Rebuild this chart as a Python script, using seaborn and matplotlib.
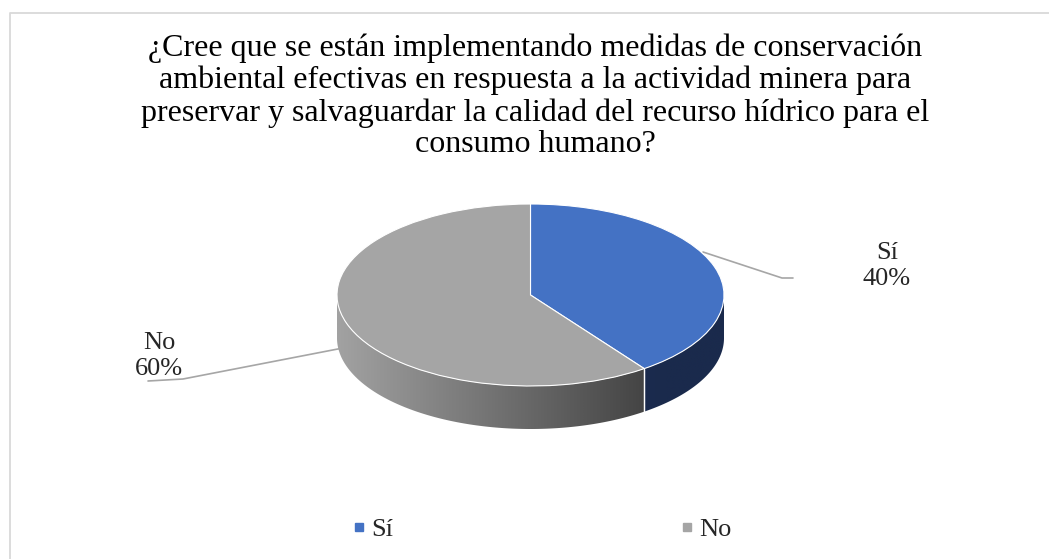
import numpy as np
import matplotlib
matplotlib.use('Agg')
import matplotlib.pyplot as plt
import seaborn as sns
from matplotlib.lines import Line2D
from matplotlib.patches import Polygon
from matplotlib.colors import to_rgb

# ---- data ----
categories = ['Sí', 'No']
values = [40, 60]
title = ('¿Cree que se están implementando medidas de conservación\n'
         'ambiental efectivas en respuesta a la actividad minera para\n'
         'preservar y salvaguardar la calidad del recurso hídrico para el\n'
         'consumo humano?')

top_colors = ['#4472C4', '#A5A5A5']
side_light = ['#24396B', '#A2A2A2']
side_dark = ['#1A2A4C', '#3E3E3E']

sns.set_theme(style='white')
plt.rcParams['font.family'] = ['Liberation Serif', 'DejaVu Serif']

W, H = 1049, 559
fig = plt.figure(figsize=(W / 100, H / 100), dpi=100)
bg = fig.add_axes([0, 0, 1, 1])
bg.set_xlim(0, W)
bg.set_ylim(H, 0)
bg.axis('off')

# chart frame (clipped at right / bottom as in the reference)
bg.plot([9.5, 9.5, W + 5], [H + 5, 12.5, 12.5], color='#D9D9D9', lw=1.3)

# title
bg.text(535, 96.5, title, ha='center', va='center', fontsize=23,
        linespacing=1.12, color='black')

# ---- pie ----
cx, cy, rx, ry, depth = 530.5, 295, 193.5, 91, 43
pax = fig.add_axes([(cx - rx) / W, (H - (cy + ry + depth)) / H,
                    2 * rx / W, (2 * ry + depth) / H])
d = depth / ry
wedges, _ = pax.pie(values, colors=top_colors, startangle=90,
                    counterclock=False,
                    wedgeprops=dict(edgecolor='white', linewidth=0.8))
for w in wedges:
    w.set_zorder(3)
pax.set_aspect('auto')
pax.set_xlim(-1, 1)
pax.set_ylim(-1 - d, 1)
pax.axis('off')

# side walls (front half of each wedge) with horizontal gradient
for i, w in enumerate(wedges):
    t = np.radians(np.linspace(w.theta1, w.theta2, 721))
    t = t[np.sin(t) <= 1e-9]
    if len(t) < 2:
        continue
    xs, ys = np.cos(t), np.sin(t)
    verts = np.concatenate([np.column_stack([xs, ys]),
                            np.column_stack([xs[::-1], ys[::-1] - d])])
    poly = Polygon(verts, closed=True, fc='none', ec='none')
    pax.add_patch(poly)
    c0 = np.array(to_rgb(side_light[i]))
    c1 = np.array(to_rgb(side_dark[i]))
    gx = np.linspace(-1, 1, 256)
    f = np.clip((gx + 1) / 1.7, 0, 1)[None, :, None]
    img = c0 * (1 - f) + c1 * f
    im = pax.imshow(img, extent=(-1, 1, -1 - d, 1), aspect='auto',
                    interpolation='bilinear', zorder=1)
    im.set_clip_path(poly)

pax.set_xlim(-1, 1)
pax.set_ylim(-1 - d, 1)

# white seam on the side at slice boundaries in front
for w in wedges:
    for ang in (w.theta1, w.theta2):
        a = np.radians(ang)
        if np.sin(a) < -1e-6:
            pax.plot([np.cos(a)] * 2, [np.sin(a), np.sin(a) - d],
                     color='white', lw=0.9, zorder=2)

# ---- data labels with leader lines ----
total = sum(values)
labels = [f'{c}\n{v / total * 100:.0f}%' for c, v in zip(categories, values)]
bg.text(887, 266, labels[0], ha='center', va='center', fontsize=19,
        linespacing=1.24)
bg.text(159, 356, labels[1], ha='center', va='center', fontsize=19,
        linespacing=1.24)
bg.plot([703, 782, 793], [252, 278, 278], color='#A6A6A6', lw=1.2)
bg.plot([343, 183, 148], [348, 379, 381], color='#A6A6A6', lw=1.2)

# ---- legend ----
handles = [Line2D([], [], marker='s', ls='', color=c, markersize=6)
           for c in top_colors]
fig.legend(handles, categories, loc='center',
           bbox_to_anchor=(542 / W, 1 - 529 / H), ncol=2, frameon=False,
           fontsize=19, handlelength=0.5, handletextpad=0.22,
           columnspacing=10.85, borderpad=0)

fig.savefig('out.png', dpi=100)
